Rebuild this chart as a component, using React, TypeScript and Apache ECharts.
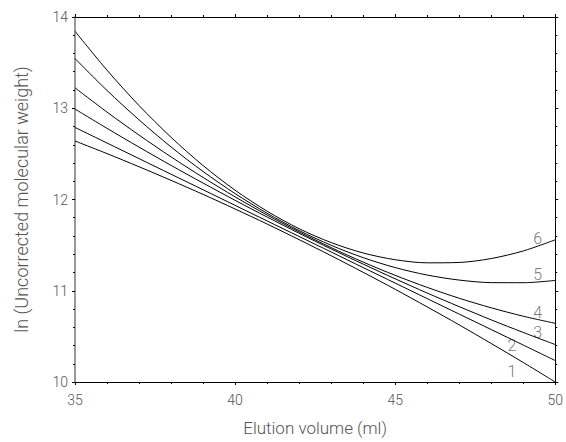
import React, { useEffect, useRef } from "react";
import * as echarts from "echarts";

const volumes = [35, 36, 37, 38, 39, 40, 41, 42, 43, 44, 45, 46, 47, 48, 49, 50];
const curve1 = [12.641, 12.503, 12.359, 12.21, 12.056, 11.896, 11.731, 11.56, 11.384, 11.202, 11.016, 10.823, 10.626, 10.422, 10.214, 10.0];
const curve2 = [12.79, 12.619, 12.448, 12.277, 12.107, 11.936, 11.765, 11.595, 11.425, 11.254, 11.084, 10.914, 10.744, 10.575, 10.405, 10.235];
const curve3 = [12.991, 12.78, 12.574, 12.374, 12.18, 11.991, 11.808, 11.63, 11.458, 11.292, 11.131, 10.975, 10.826, 10.681, 10.543, 10.41];
const curve4 = [13.224, 12.958, 12.706, 12.467, 12.242, 12.029, 11.83, 11.645, 11.473, 11.314, 11.169, 11.037, 10.918, 10.813, 10.721, 10.643];
const curve5 = [13.545, 13.195, 12.873, 12.576, 12.307, 12.065, 11.849, 11.66, 11.498, 11.363, 11.254, 11.172, 11.117, 11.089, 11.088, 11.113];
const curve6 = [13.844, 13.417, 13.03, 12.682, 12.372, 12.102, 11.872, 11.68, 11.528, 11.414, 11.34, 11.306, 11.31, 11.353, 11.436, 11.558];

const curveNames = ["1", "2", "3", "4", "5", "6"];
const curveLabelX = [48.65, 48.65, 49.45, 49.45, 49.45, 49.45];
const curveLabelY = [10.118, 10.402, 10.545, 10.763, 11.179, 11.573];

const xTitle = "Elution volume (ml)";
const yTitle = "ln (Uncorrected molecular weight)";

const FONT = "Roboto";
const GRAY = "#555";

export default function App() {
  const ref = useRef<HTMLDivElement>(null);
  useEffect(() => {
    if (!ref.current) return;
    const chart = echarts.init(ref.current, undefined, { renderer: "svg" });
    const curves = [curve1, curve2, curve3, curve4, curve5, curve6];
    const lineSeries = curves.map((c, i) => ({
      name: curveNames[i],
      type: "line",
      data: volumes.map((v, j) => [v, c[j]]),
      showSymbol: false,
      smooth: 0.3,
      lineStyle: { color: "#000", width: 1 },
      silent: true,
    }));
    const labelSeries = {
      type: "scatter",
      symbolSize: 0,
      silent: true,
      data: curveNames.map((n, i) => ({ value: [curveLabelX[i], curveLabelY[i]], name: n })),
      label: {
        show: true,
        position: "inside",
        formatter: (p: any) => p.name,
        color: GRAY,
        fontFamily: FONT,
        fontWeight: 300,
        fontSize: 16,
      },
    };
    const tickCommon = {
      axisTick: { show: true, inside: false, length: 3, lineStyle: { color: "#000" } },
      minorTick: { show: true, splitNumber: 5, length: 2, lineStyle: { color: "#000" } },
      splitLine: { show: false },
      minorSplitLine: { show: false },
    };
    chart.setOption({
      animation: false,
      backgroundColor: "#fff",
      grid: { left: 75, right: 6, top: 17, bottom: 60, containLabel: false },
      xAxis: [
        {
          type: "value",
          min: 35,
          max: 50,
          interval: 5,
          position: "bottom",
          name: xTitle,
          nameLocation: "middle",
          nameGap: 37,
          nameTextStyle: { color: GRAY, fontFamily: FONT, fontWeight: 300, fontSize: 17 },
          axisLine: { show: true, lineStyle: { color: "#000", width: 1 } },
          axisLabel: { color: GRAY, fontFamily: FONT, fontWeight: 300, fontSize: 14, margin: 11 },
          ...tickCommon,
        },
        {
          type: "value",
          min: 35,
          max: 50,
          interval: 5,
          position: "top",
          axisLine: { show: true, lineStyle: { color: "#000", width: 1 } },
          axisLabel: { show: false },
          ...tickCommon,
        },
      ],
      yAxis: [
        {
          type: "value",
          min: 10,
          max: 14,
          interval: 1,
          position: "left",
          name: yTitle,
          nameLocation: "middle",
          nameGap: 45,
          nameTextStyle: { color: GRAY, fontFamily: FONT, fontWeight: 300, fontSize: 18 },
          axisLine: { show: true, lineStyle: { color: "#777", width: 1.5 } },
          axisLabel: { color: GRAY, fontFamily: FONT, fontWeight: 300, fontSize: 14, margin: 7 },
          ...tickCommon,
        },
        {
          type: "value",
          min: 10,
          max: 14,
          interval: 1,
          position: "right",
          axisLine: { show: true, lineStyle: { color: "#000", width: 1 } },
          axisLabel: { show: false },
          ...tickCommon,
        },
      ],
      series: [...lineSeries, labelSeries],
    });
    return () => chart.dispose();
  }, []);
  return <div ref={ref} style={{ width: 566, height: 442, position: "absolute", left: 0, top: 0 }} />;
}
